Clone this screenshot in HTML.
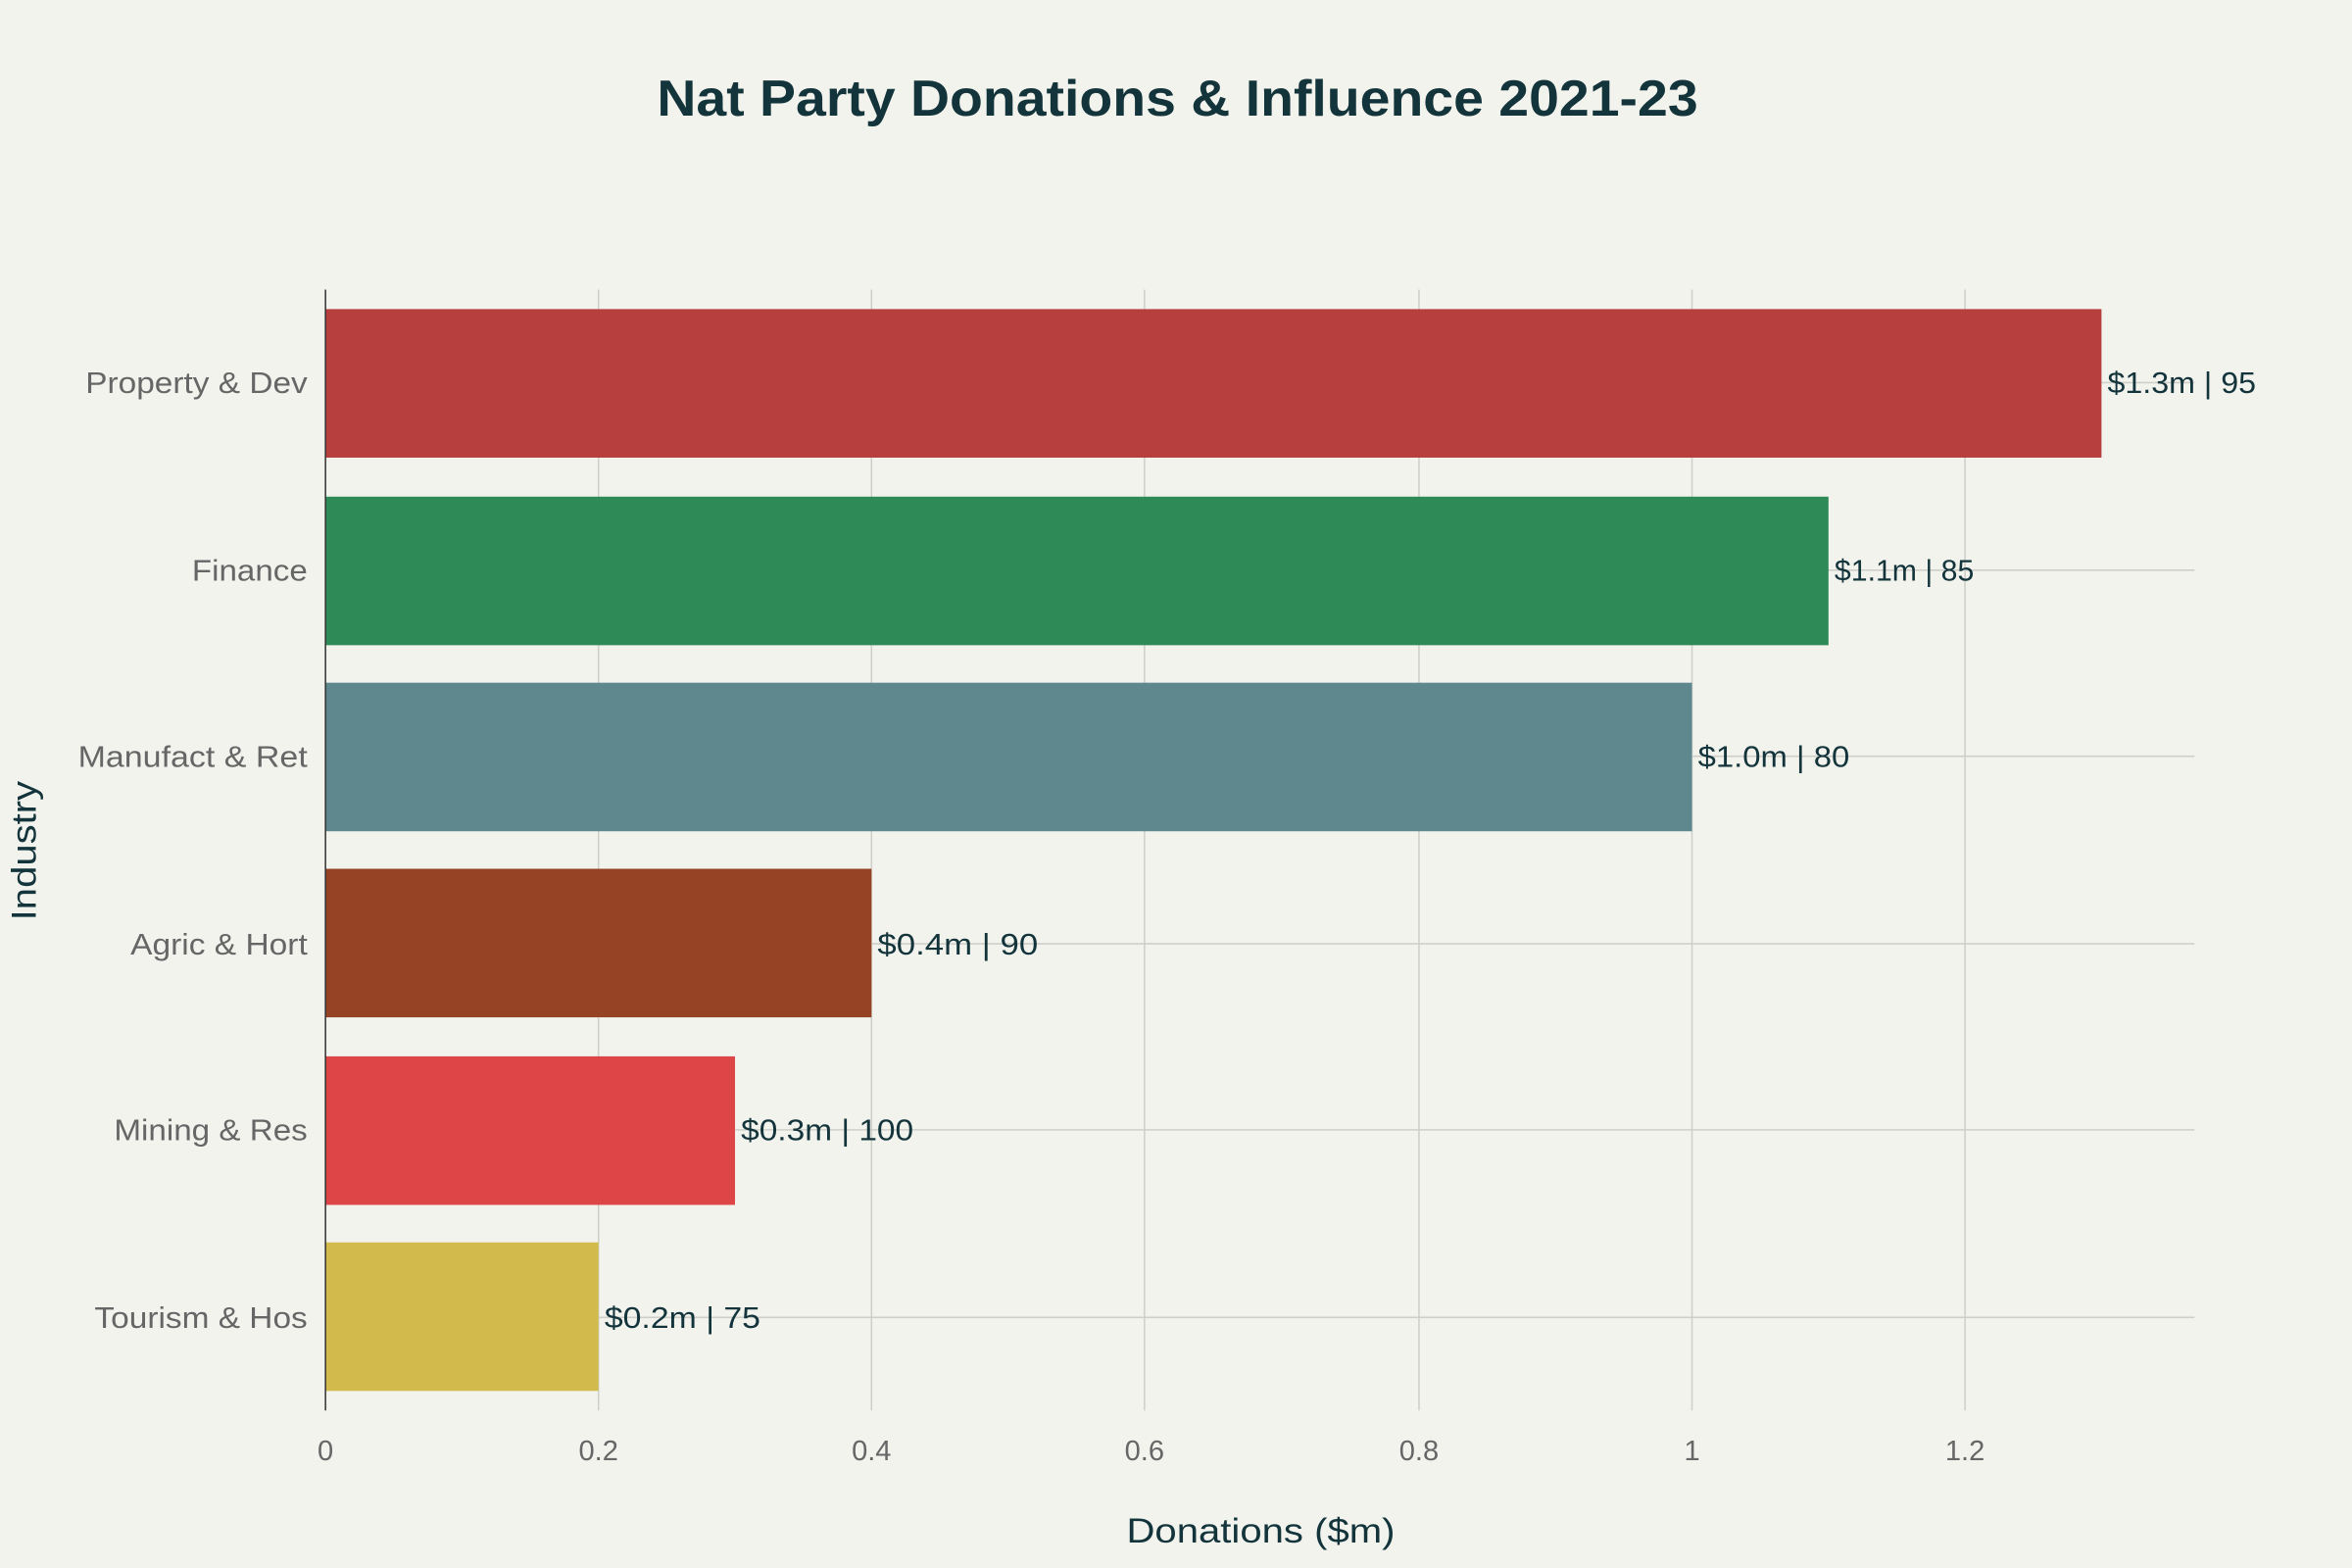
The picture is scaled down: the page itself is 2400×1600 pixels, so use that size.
<!DOCTYPE html>
<html><head><meta charset="utf-8"><style>
html,body{margin:0;padding:0;background:#F3F3EE;}
svg{display:block;font-family:"Liberation Sans",sans-serif;}
</style></head><body>
<svg width="2400" height="1600" viewBox="0 0 1568 1045" preserveAspectRatio="none" xmlns="http://www.w3.org/2000/svg">
<rect width="1568" height="1045" fill="#F3F3EE"/>
<text x="438" y="77" font-size="34" font-weight="bold" fill="#13343B" textLength="694" lengthAdjust="spacingAndGlyphs">Nat Party Donations &amp; Influence 2021-23</text>
<g stroke="#cfcfca" stroke-width="1">
<line x1="399" y1="193" x2="399" y2="940"/>
<line x1="581" y1="193" x2="581" y2="940"/>
<line x1="763" y1="193" x2="763" y2="940"/>
<line x1="946" y1="193" x2="946" y2="940"/>
<line x1="1128" y1="193" x2="1128" y2="940"/>
<line x1="1310" y1="193" x2="1310" y2="940"/>
<line x1="217" y1="255" x2="1463" y2="255"/>
<line x1="217" y1="380" x2="1463" y2="380"/>
<line x1="217" y1="504" x2="1463" y2="504"/>
<line x1="217" y1="629" x2="1463" y2="629"/>
<line x1="217" y1="753" x2="1463" y2="753"/>
<line x1="217" y1="878" x2="1463" y2="878"/>
</g>
<rect x="217" y="206" width="1184" height="99" fill="#B7403E"/>
<rect x="217" y="331" width="1002" height="99" fill="#2E8B57"/>
<rect x="217" y="455" width="911" height="99" fill="#5E888D"/>
<rect x="217" y="579" width="364" height="99" fill="#964325"/>
<rect x="217" y="704" width="273" height="99" fill="#DD4546"/>
<rect x="217" y="828" width="182" height="99" fill="#D2BA4C"/>
<line x1="217" y1="193" x2="217" y2="940" stroke="#333" stroke-width="1"/>
<g font-size="20" fill="#13343B" lengthAdjust="spacingAndGlyphs">
<text x="1405" y="262" textLength="99" lengthAdjust="spacingAndGlyphs">$1.3m | 95</text>
<text x="1223" y="387" textLength="93" lengthAdjust="spacingAndGlyphs">$1.1m | 85</text>
<text x="1132" y="511" textLength="101" lengthAdjust="spacingAndGlyphs">$1.0m | 80</text>
<text x="585" y="636" textLength="107" lengthAdjust="spacingAndGlyphs">$0.4m | 90</text>
<text x="494" y="760" textLength="115" lengthAdjust="spacingAndGlyphs">$0.3m | 100</text>
<text x="403" y="885" textLength="104" lengthAdjust="spacingAndGlyphs">$0.2m | 75</text>
</g>
<g font-size="20" fill="#666">
<text x="57" y="262" textLength="148" lengthAdjust="spacingAndGlyphs">Property &amp; Dev</text>
<text x="128" y="387" textLength="77" lengthAdjust="spacingAndGlyphs">Finance</text>
<text x="52" y="511" textLength="153" lengthAdjust="spacingAndGlyphs">Manufact &amp; Ret</text>
<text x="87" y="636" textLength="118" lengthAdjust="spacingAndGlyphs">Agric &amp; Hort</text>
<text x="76" y="760" textLength="129" lengthAdjust="spacingAndGlyphs">Mining &amp; Res</text>
<text x="63" y="885" textLength="142" lengthAdjust="spacingAndGlyphs">Tourism &amp; Hos</text>
</g>
<g font-size="19" fill="#666" text-anchor="middle">
<text x="217" y="973">0</text>
<text x="399" y="973">0.2</text>
<text x="581" y="973">0.4</text>
<text x="763" y="973">0.6</text>
<text x="946" y="973">0.8</text>
<text x="1128" y="973">1</text>
<text x="1310" y="973">1.2</text>
</g>
<text x="751" y="1028" font-size="23" fill="#13343B" textLength="179" lengthAdjust="spacingAndGlyphs">Donations ($m)</text>
<text transform="translate(24,567) rotate(-90)" text-anchor="middle" font-size="23" fill="#13343B" textLength="93" lengthAdjust="spacingAndGlyphs">Industry</text>
</svg>
</body></html>
